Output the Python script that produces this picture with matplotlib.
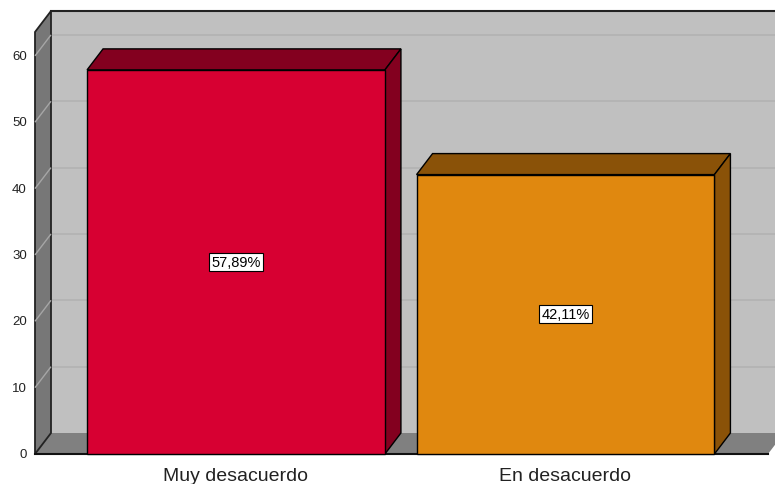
## 3D-style bar chart (SPSS look): percentage of answers per category.

import matplotlib
matplotlib.use("Agg")
import matplotlib.pyplot as plt
from matplotlib.patches import Polygon
from matplotlib import transforms

plt.rcParams['font.family'] = ['Liberation Sans', 'DejaVu Sans']

categories = ["Muy desacuerdo", "En desacuerdo"]
values = [57.89, 42.11]
labels = ["57,89%", "42,11%"]
yticks = [0, 10, 20, 30, 40, 50, 60]

front_colors = ["#d70032", "#e0880f"]
dark_colors = ["#83001f", "#8a5208"]

fig = plt.figure(figsize=(7.75, 4.85), dpi=100)
ax = fig.add_axes([35 / 775, 30 / 485, 733 / 775, 422 / 485])
ax.set_xlim(-0.61, 1.6146)
ax.set_ylim(0, 63.6)
ax.axis("off")

# depth of the 3D box, in pixels (right, up)
depth = transforms.ScaledTranslation(16 / 100, 21 / 100, fig.dpi_scale_trans)
back = ax.transData + depth
x0, x1 = ax.get_xlim()
ytop = ax.get_ylim()[1]

# back wall
ax.add_patch(Polygon([(x0, 0), (x1 + 0.2, 0), (x1 + 0.2, ytop), (x0, ytop)],
                     closed=True, transform=back, facecolor="#c0c0c0",
                     edgecolor="none", clip_on=False, zorder=1))
for t in yticks[1:]:
    ax.plot([x0, x1 + 0.2], [t, t], transform=back, color="#b2b2b2",
            lw=1.2, clip_on=False, zorder=1.5)
ax.plot([x0, x1 + 0.2], [ytop, ytop], transform=back, color="#222222",
        lw=1.5, clip_on=False, zorder=2)


def side_poly(pts_front, pts_back, **kw):
    # polygon with some corners in front plane and some in back plane
    disp = [ax.transData.transform(p) for p in pts_front] + \
           [back.transform(p) for p in pts_back]
    inv = ax.transData.inverted()
    return Polygon([inv.transform(d) for d in disp], closed=True,
                   clip_on=False, **kw)


# floor
ax.add_patch(side_poly([(x0, 0), (x1, 0)], [(x1, 0), (x0, 0)],
                       facecolor="#808080", edgecolor="none", zorder=2))
ax.plot([x0, x1], [0, 0], color="#111111", lw=1.5, clip_on=False, zorder=3)

# left wall
ax.add_patch(side_poly([(x0, 0), (x0, ytop)], [(x0, ytop), (x0, 0)],
                       facecolor="#777777", edgecolor="#222222", lw=1.3,
                       zorder=2))
for t in yticks[1:]:
    ax.add_patch(side_poly([(x0, t)], [(x0, t)], fill=False,
                           edgecolor="#a6a6a6", lw=1.0, zorder=2.5))

# bars
width = 0.904
for i, (v, fc, dc) in enumerate(zip(values, front_colors, dark_colors)):
    l, r = i - width / 2, i + width / 2
    ax.add_patch(side_poly([(l, v), (r, v)], [(r, v), (l, v)],
                           facecolor=dc, edgecolor="black", lw=1.0,
                           zorder=4 + i))
    ax.add_patch(side_poly([(r, 0), (r, v)], [(r, v), (r, 0)],
                           facecolor=dc, edgecolor="black", lw=1.0,
                           zorder=4 + i))
    ax.add_patch(Polygon([(l, 0), (r, 0), (r, v), (l, v)], closed=True,
                         facecolor=fc, edgecolor="black", lw=1.0,
                         clip_on=False, zorder=4.5 + i))
    ax.text(i, v / 2, labels[i], ha="center", va="center", fontsize=10.5,
            zorder=10, bbox=dict(boxstyle="square,pad=0.15", facecolor="white",
                                 edgecolor="black", lw=0.8))
    ax.text(i, -1.9, categories[i], ha="center", va="top", fontsize=14,
            color="#222222", zorder=10)

for t in yticks:
    ax.text(x0 - 0.025, t, str(t), ha="right", va="center", fontsize=9.5,
            color="#222222")

fig.savefig("out.png", dpi=100)
